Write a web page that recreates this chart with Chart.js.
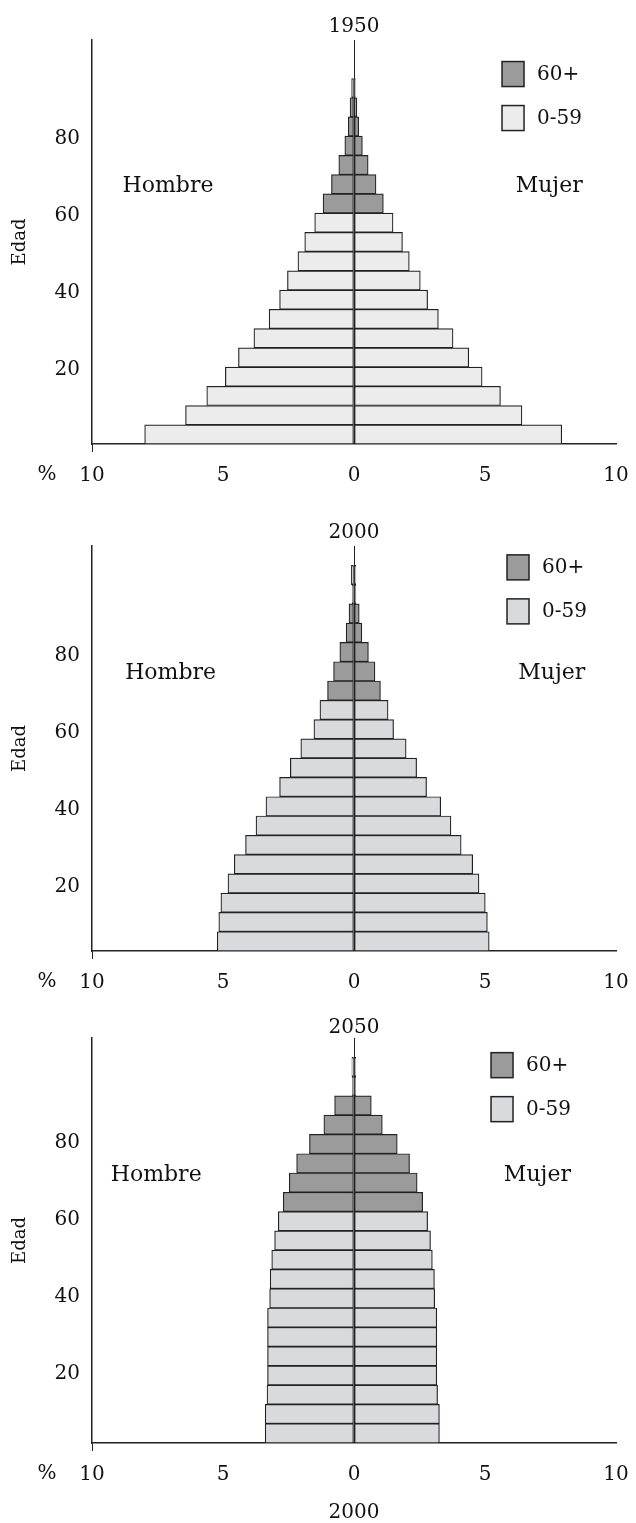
<!DOCTYPE html>
<html lang="es">
<head>
<meta charset="utf-8">
<title>Pirámides de población 1950, 2000, 2050</title>
<script src="https://cdn.jsdelivr.net/npm/chart.js@4.4.1/dist/chart.umd.min.js"></script>
<style>
  html, body { margin: 0; padding: 0; background: #fff; }
  #lienzo { position: relative; width: 636px; height: 1523px; overflow: hidden; }
  #lienzo canvas { position: absolute; left: 0; }
</style>
</head>
<body>
<div id="lienzo">
  <canvas id="pir1950" width="636" height="500" style="top:0px"></canvas>
  <canvas id="pir2000" width="636" height="490" style="top:500px"></canvas>
  <canvas id="pir2050" width="636" height="533" style="top:990px"></canvas>
</div>
<script>
// grupos quinquenales de edad (de abajo hacia arriba)
const gruposEdad = ['0-4', '5-9', '10-14', '15-19', '20-24', '25-29', '30-34', '35-39', '40-44',
    '45-49', '50-54', '55-59', '60-64', '65-69', '70-74', '75-79', '80-84', '85-89', '90-94',
    '95-99', '100+'];
const marcasEdad = [20, 40, 60, 80];
const marcasPct = [-10, -5, 0, 5, 10];
const seriesLeyenda = ['60+', '0-59'];

// % de población por grupo de edad
const hombres1950 = [7.99, 6.43, 5.62, 4.91, 4.41, 3.82, 3.24, 2.84, 2.54, 2.14, 1.88, 1.50,
    1.18, 0.86, 0.58, 0.35, 0.22, 0.15, 0.09];
const mujeres1950 = [7.93, 6.41, 5.59, 4.89, 4.38, 3.78, 3.22, 2.81, 2.53, 2.11, 1.85, 1.49,
    1.12, 0.84, 0.54, 0.32, 0.18, 0.11, 0.05];
const serie1950 = ['0-59', '0-59', '0-59', '0-59', '0-59', '0-59', '0-59', '0-59', '0-59', '0-59',
    '0-59', '0-59', '60+', '60+', '60+', '60+', '60+', '60+', '60+'];

const hombres2000 = [5.22, 5.16, 5.08, 4.81, 4.57, 4.14, 3.74, 3.36, 2.84, 2.43, 2.03, 1.53,
    1.30, 1.01, 0.78, 0.54, 0.30, 0.19, 0.07, 0.10];
const mujeres2000 = [5.16, 5.09, 5.01, 4.77, 4.53, 4.09, 3.70, 3.31, 2.77, 2.39, 1.99, 1.51,
    1.30, 1.01, 0.80, 0.55, 0.30, 0.20, 0.07, 0.07];
const serie2000 = ['0-59', '0-59', '0-59', '0-59', '0-59', '0-59', '0-59', '0-59', '0-59', '0-59',
    '0-59', '0-59', '0-59', '60+', '60+', '60+', '60+', '60+', '60+', '0-59'];

const hombres2050 = [3.39, 3.39, 3.32, 3.30, 3.30, 3.30, 3.30, 3.22, 3.20, 3.14, 3.03, 2.89,
    2.70, 2.47, 2.19, 1.70, 1.15, 0.74, 0.06, 0.08];
const mujeres2050 = [3.26, 3.26, 3.19, 3.16, 3.16, 3.16, 3.16, 3.08, 3.07, 2.99, 2.92, 2.81,
    2.62, 2.41, 2.12, 1.65, 1.08, 0.66, 0.06, 0.07];
const serie2050 = ['0-59', '0-59', '0-59', '0-59', '0-59', '0-59', '0-59', '0-59', '0-59', '0-59',
    '0-59', '0-59', '60+', '60+', '60+', '60+', '60+', '60+', '60+', '0-59'];

const colorTexto = '#111';
const colorBorde = '#222';
const fuente = "'DejaVu Serif', 'Liberation Serif', serif";

Chart.defaults.font.family = fuente;
Chart.defaults.color = colorTexto;

// Hombre / Mujer, leyenda dentro del área y signo %
const textosPiramide = {
    id: 'textosPiramide',
    afterDatasetsDraw(chart, args, opts) {
        const { ctx, chartArea, scales } = chart;
        const sx = scales.x;
        const sy = scales.edad;
        ctx.save();
        ctx.fillStyle = colorTexto;
        ctx.textBaseline = 'middle';
        ctx.textAlign = 'center';
        ctx.font = '22px ' + fuente;
        ctx.fillText('Hombre', sx.getPixelForValue(opts.hombre[0]), sy.getPixelForValue(opts.hombre[1]));
        ctx.fillText('Mujer', sx.getPixelForValue(opts.mujer[0]), sy.getPixelForValue(opts.mujer[1]));

        const lx = sx.getPixelForValue(opts.leyenda[0]);
        const ly = sy.getPixelForValue(opts.leyenda[1]);
        ctx.font = '20px ' + fuente;
        seriesLeyenda.forEach((serie, i) => {
            const arriba = ly + i * 44;
            ctx.fillStyle = opts.colores[serie];
            ctx.fillRect(lx, arriba, 22, 25);
            ctx.strokeStyle = colorBorde;
            ctx.lineWidth = 1.5;
            ctx.strokeRect(lx, arriba, 22, 25);
            ctx.fillStyle = colorTexto;
            ctx.textAlign = 'left';
            ctx.fillText(serie, lx + 35, arriba + 13);
        });

        ctx.textAlign = 'center';
        ctx.fillText('%', chartArea.left - 45, chartArea.bottom + 31);
        ctx.restore();
    }
};

function crearPiramide(idCanvas, anio, hombres, mujeres, series, ajustes) {
    const datasets = [];
    [['Hombre', hombres, -1], ['Mujer', mujeres, 1]].forEach(([sexo, valores, signo]) => {
        ['0-59', '60+'].forEach(serie => {
            datasets.push({
                label: sexo + ' ' + serie,
                data: valores.map((v, i) => series[i] === serie ? signo * v : null),
                backgroundColor: ajustes.colores[serie],
                borderColor: colorBorde,
                borderWidth: 1.2,
                borderSkipped: false,
                barPercentage: 1,
                categoryPercentage: 1
            });
        });
    });

    return new Chart(document.getElementById(idCanvas), {
        type: 'bar',
        data: { labels: gruposEdad, datasets: datasets },
        plugins: [textosPiramide],
        options: {
            indexAxis: 'y',
            responsive: false,
            animation: false,
            events: [],
            layout: { padding: { left: 0, right: 20, top: 0, bottom: 0 } },
            plugins: {
                legend: { display: false },
                tooltip: { enabled: false },
                title: {
                    display: true,
                    text: anio,
                    fullSize: false,
                    color: colorTexto,
                    font: { size: 20, weight: 'normal', lineHeight: 1 },
                    padding: ajustes.paddingTitulo
                },
                textosPiramide: {
                    hombre: ajustes.hombre,
                    mujer: ajustes.mujer,
                    leyenda: ajustes.leyenda,
                    colores: ajustes.colores
                }
            },
            scales: {
                x: {
                    type: 'linear',
                    min: -10,
                    max: 10,
                    stacked: true,
                    afterBuildTicks: s => { s.ticks = marcasPct.map(v => ({ value: v })); },
                    afterFit: s => {
                        s.height = ajustes.altoEjeX;
                        s.paddingLeft = 0;
                        s.paddingRight = 0;
                    },
                    ticks: {
                        callback: v => Math.abs(v),
                        padding: 12,
                        maxRotation: 0,
                        color: colorTexto,
                        font: { size: 20, lineHeight: 1.2 }
                    },
                    grid: {
                        color: c => (c.tick && c.tick.value === 0) ? colorBorde : 'rgba(0,0,0,0)',
                        lineWidth: 1,
                        tickLength: 8,
                        tickColor: c => (c.tick && c.tick.value === -10) ? colorBorde : 'rgba(0,0,0,0)'
                    },
                    border: { display: true, color: colorBorde, width: 1.5 },
                    title: {
                        display: !!ajustes.pie,
                        text: ajustes.pie || '',
                        color: colorTexto,
                        font: { size: 20, lineHeight: 1 },
                        padding: { top: 0, bottom: 0 }
                    }
                },
                y: {
                    type: 'category',
                    display: false,
                    stacked: true,
                    reverse: true
                },
                edad: {
                    type: 'linear',
                    position: 'left',
                    min: 0,
                    max: 105,
                    offset: false,
                    afterBuildTicks: s => { s.ticks = marcasEdad.map(v => ({ value: v })); },
                    afterFit: s => { s.width = 92; },
                    ticks: {
                        padding: 12,
                        color: colorTexto,
                        labelOffset: ajustes.desfaseEdad,
                        font: { size: 20 }
                    },
                    grid: { display: true, offset: false, drawOnChartArea: false, drawTicks: false },
                    border: { display: true, color: colorBorde, width: 1.5 },
                    title: {
                        display: true,
                        text: 'Edad',
                        color: colorTexto,
                        font: { size: 18 },
                        padding: { top: 10, bottom: 0 }
                    }
                }
            }
        }
    });
}

crearPiramide('pir1950', '1950', hombres1950, mujeres1950, serie1950, {
    colores: { '0-59': '#ececec', '60+': '#9b9b9b' },
    paddingTitulo: { top: 17, bottom: 3 },
    altoEjeX: 56,
    desfaseEdad: 3,
    hombre: [-7.1, 67],
    mujer: [7.45, 67],
    leyenda: [5.65, 99.4]
});

crearPiramide('pir2000', '2000', hombres2000, mujeres2000, serie2000, {
    colores: { '0-59': '#d9dadb', '60+': '#9b9b9b' },
    paddingTitulo: { top: 23, bottom: 3 },
    altoEjeX: 39,
    desfaseEdad: 13,
    hombre: [-7.0, 72],
    mujer: [7.55, 72],
    leyenda: [5.84, 102.7]
});

crearPiramide('pir2050', '2050', hombres2050, mujeres2050, serie2050, {
    colores: { '0-59': '#d9dadb', '60+': '#9b9b9b' },
    paddingTitulo: { top: 28, bottom: 0 },
    altoEjeX: 80,
    pie: '2000',
    desfaseEdad: 8,
    hombre: [-7.55, 69.3],
    mujer: [7.0, 69.3],
    leyenda: [5.23, 101.2]
});
</script>
</body>
</html>
